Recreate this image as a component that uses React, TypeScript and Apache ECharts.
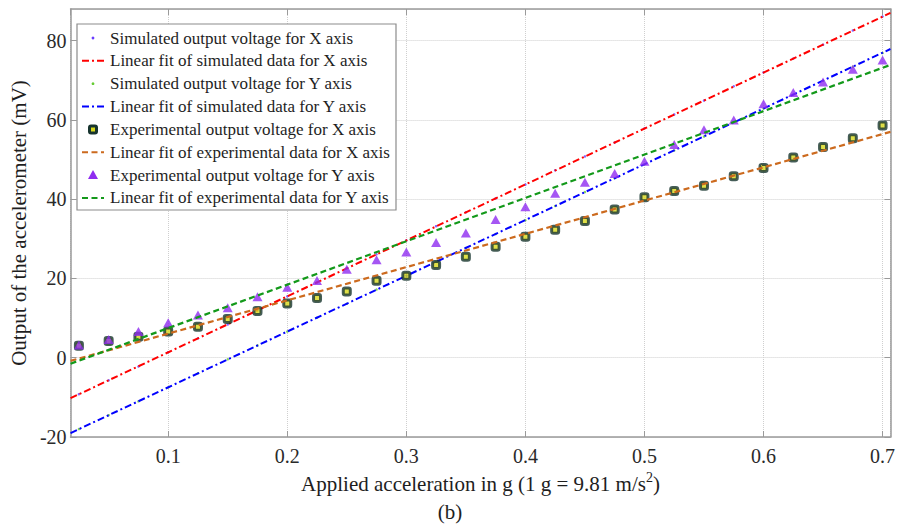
import React, { useEffect, useRef } from "react";
import * as echarts from "echarts";

// Applied acceleration (g)
const accel = [0.025, 0.05, 0.075, 0.1, 0.125, 0.15, 0.175, 0.2, 0.225, 0.25, 0.275, 0.3, 0.325, 0.35, 0.375, 0.4, 0.425, 0.45, 0.475, 0.5, 0.525, 0.55, 0.575, 0.6, 0.625, 0.65, 0.675, 0.7];
// Simulated output (mV)
const simX = [-9.2, -5.7, -2.2, 1.4, 4.9, 8.4, 12.0, 15.5, 19.0, 22.6, 26.1, 29.6, 33.2, 36.7, 40.2, 43.7, 47.3, 50.8, 54.3, 57.9, 61.4, 64.9, 68.5, 72.0, 75.5, 79.0, 82.6, 86.1];
const simY = [-18.0, -14.5, -11.0, -7.5, -3.9, -0.4, 3.1, 6.6, 10.1, 13.6, 17.2, 20.7, 24.2, 27.7, 31.2, 34.7, 38.3, 41.8, 45.3, 48.8, 52.3, 55.8, 59.4, 62.9, 66.4, 69.9, 73.4, 76.9];
// Experimental output (mV)
const expX = [3.0, 4.2, 5.3, 6.6, 7.8, 9.8, 11.8, 13.7, 15.1, 16.7, 19.4, 20.7, 23.4, 25.5, 28.0, 30.5, 32.3, 34.5, 37.4, 40.5, 42.1, 43.4, 45.8, 47.9, 50.5, 53.2, 55.4, 58.6];
const expY = [3.2, 4.6, 6.6, 8.8, 10.8, 12.6, 15.4, 17.8, 19.5, 22.3, 24.7, 26.7, 29.1, 31.5, 34.9, 38.1, 41.5, 44.3, 46.5, 49.6, 53.8, 57.5, 60.0, 64.1, 66.9, 69.6, 72.8, 75.1];
// Linear fits: value at the two ends of the x range
const fitRange = [0.018, 0.7066];
const fitSimX = [-10.2, 87.0];
const fitSimY = [-19.0, 77.9];
const fitExpX = [-0.8, 57.0];
const fitExpY = [-1.5, 73.9];

const legendLabels = [
  "Simulated output voltage for X axis",
  "Linear fit of simulated data for X axis",
  "Simulated output voltage for Y axis",
  "Linear fit of simulated data for Y axis",
  "Experimental output voltage for X axis",
  "Linear fit of experimental data for X axis",
  "Experimental output voltage for Y axis",
  "Linear fit of experimental data for Y axis",
];

const xTitle = "Applied acceleration in g (1 g = 9.81 m/s";
const yTitle = "Output of the accelerometer (mV)";
const caption = "(b)";

const FONT = "Liberation Serif";
const C = {
  simX: "#6a3dff",
  fitSimX: "#ff0000",
  simY: "#66cc33",
  fitSimY: "#0000ff",
  expXFill: "#d8d81a",
  expXEdge: "#17342e",
  fitExpX: "#cc6a1e",
  expY: "#8f2cf0",
  fitExpY: "#13991a",
};
const DASHDOT = [7, 3, 2, 3];
const DASH = [6, 3.5];

const pairs = (xs: number[], ys: number[]) => xs.map((x, i) => [x, ys[i]]);

function legendGraphics() {
  const els: any[] = [];
  els.push({
    type: "rect",
    shape: { x: 77, y: 24, width: 319, height: 186 },
    style: { fill: "#fff", stroke: "#8c8c8c", lineWidth: 1.2 },
    z: 100,
  });
  legendLabels.forEach((label, i) => {
    const cy = 38 + i * 22.85;
    const ix0 = 82, ix1 = 104, icx = 93;
    if (i === 0 || i === 2) {
      els.push({ type: "circle", shape: { cx: icx, cy, r: 1.4 }, style: { fill: i === 0 ? C.simX : C.simY }, z: 101 });
    } else if (i === 4) {
      els.push({ type: "rect", shape: { x: icx - 3.5, y: cy - 3.5, width: 7, height: 7, r: 1.5 }, style: { fill: C.expXFill, stroke: C.expXEdge, lineWidth: 3 }, z: 101 });
    } else if (i === 6) {
      els.push({ type: "polygon", shape: { points: [[icx, cy - 5], [icx + 5, cy + 4], [icx - 5, cy + 4]] }, style: { fill: C.expY }, z: 101 });
    } else {
      const col = i === 1 ? C.fitSimX : i === 3 ? C.fitSimY : i === 5 ? C.fitExpX : C.fitExpY;
      const dash = i === 1 || i === 3 ? DASHDOT : DASH;
      els.push({ type: "line", shape: { x1: ix0, y1: cy, x2: ix1, y2: cy }, style: { stroke: col, lineWidth: 2, lineDash: dash }, z: 101 });
    }
    els.push({
      type: "text",
      x: 110,
      y: cy,
      style: { text: label, fontSize: 17, fontFamily: FONT, fill: "#1e1e1e", verticalAlign: "middle", align: "left" },
      z: 101,
    });
  });
  els.push({
    type: "text",
    x: 450,
    y: 512,
    style: { text: caption, fontSize: 21, fontFamily: FONT, fill: "#1e1e1e", align: "center", verticalAlign: "middle" },
  });
  return els;
}

export default function App() {
  const ref = useRef<HTMLDivElement>(null);
  useEffect(() => {
    if (!ref.current) return;
    const chart = echarts.init(ref.current, null, { renderer: "svg" });
    const axisLineStyle = { color: "#9a9a9a", width: 1.5 };
    const splitLine = { show: true, lineStyle: { type: "dotted" as const, color: "#cfcfcf", width: 1 } };
    const labelStyle = { fontSize: 20, fontFamily: FONT, color: "#2a2a2a" };
    const xCommon = { type: "value" as const, min: fitRange[0], max: fitRange[1], minInterval: 0.1, maxInterval: 0.1 };
    const yCommon = { type: "value" as const, min: -20, max: 88, interval: 20 };
    const option: any = {
      animation: false,
      backgroundColor: "#fff",
      textStyle: { fontFamily: FONT },
      grid: { left: 62, right: 7, top: 9, bottom: 90, containLabel: false },
      xAxis: [
        {
          ...xCommon,
          position: "bottom",
          axisLine: { show: true, onZero: false, lineStyle: axisLineStyle },
          axisTick: { show: true, inside: true, length: 6, lineStyle: { color: "#9a9a9a" } },
          axisLabel: { ...labelStyle, margin: 9, showMinLabel: false, showMaxLabel: false, formatter: (v: number) => v.toFixed(1) },
          splitLine,
          name: `{a|${xTitle}}{s|2}{a|)}`,
          nameLocation: "middle",
          nameGap: 29,
          nameTextStyle: {
            rich: {
              a: { fontSize: 21, fontFamily: FONT, color: "#1e1e1e", lineHeight: 26 },
              s: { fontSize: 14, fontFamily: FONT, color: "#1e1e1e", verticalAlign: "top", lineHeight: 12 },
            },
          },
        },
        {
          ...xCommon,
          position: "top",
          axisLine: { show: true, onZero: false, lineStyle: axisLineStyle },
          axisTick: { show: true, inside: true, length: 6, lineStyle: { color: "#9a9a9a" } },
          axisLabel: { show: false },
          splitLine: { show: false },
        },
      ],
      yAxis: [
        {
          ...yCommon,
          position: "left",
          axisLine: { show: true, onZero: false, lineStyle: axisLineStyle },
          axisTick: { show: true, inside: true, length: 6, lineStyle: { color: "#9a9a9a" } },
          axisLabel: { ...labelStyle, margin: 4, showMaxLabel: false },
          splitLine,
          name: yTitle,
          nameLocation: "middle",
          nameRotate: 90,
          nameGap: 34,
          nameTextStyle: { fontSize: 21, fontFamily: FONT, color: "#1e1e1e" },
        },
        {
          ...yCommon,
          position: "right",
          axisLine: { show: true, onZero: false, lineStyle: axisLineStyle },
          axisTick: { show: true, inside: true, length: 6, lineStyle: { color: "#9a9a9a" } },
          axisLabel: { show: false },
          splitLine: { show: false },
        },
      ],
      series: [
        {
          name: legendLabels[0], type: "scatter", data: pairs(accel, simX), symbol: "circle", symbolSize: 2.5,
          itemStyle: { color: C.simX }, z: 2,
        },
        {
          name: legendLabels[1], type: "line", data: pairs(fitRange, fitSimX), symbol: "none",
          lineStyle: { color: C.fitSimX, width: 2, type: DASHDOT }, z: 3,
        },
        {
          name: legendLabels[2], type: "scatter", data: pairs(accel, simY), symbol: "circle", symbolSize: 2.5,
          itemStyle: { color: C.simY }, z: 2,
        },
        {
          name: legendLabels[3], type: "line", data: pairs(fitRange, fitSimY), symbol: "none",
          lineStyle: { color: C.fitSimY, width: 2, type: DASHDOT }, z: 3,
        },
        {
          name: legendLabels[4], type: "scatter", data: pairs(accel, expX), symbol: "roundRect", symbolSize: 7,
          itemStyle: { color: C.expXFill, borderColor: C.expXEdge, borderWidth: 3 }, z: 4,
        },
        {
          name: legendLabels[5], type: "line", data: pairs(fitRange, fitExpX), symbol: "none",
          lineStyle: { color: C.fitExpX, width: 2.2, type: DASH }, z: 5,
        },
        {
          name: legendLabels[6], type: "scatter", data: pairs(accel, expY), symbol: "triangle", symbolSize: [10, 9],
          itemStyle: { color: C.expY }, z: 6,
        },
        {
          name: legendLabels[7], type: "line", data: pairs(fitRange, fitExpY), symbol: "none",
          lineStyle: { color: C.fitExpY, width: 2.2, type: DASH }, z: 7,
        },
      ],
      graphic: legendGraphics(),
    };
    chart.setOption(option);
    return () => chart.dispose();
  }, []);
  return <div ref={ref} style={{ position: "absolute", left: 0, top: 0, width: 898, height: 527 }} />;
}
